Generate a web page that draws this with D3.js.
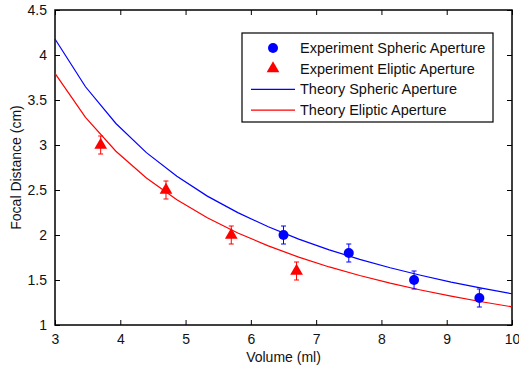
<!DOCTYPE html>
<html>
<head>
<meta charset="utf-8">
<script src="https://cdn.jsdelivr.net/npm/d3@7"></script>
<style>
  body { margin: 0; background: #fff; }
  svg text { font-family: "Liberation Sans", Arial, sans-serif; fill: #111; }
</style>
</head>
<body>
<div id="chart"></div>
<script>
// theory curves, sampled volumes (ml) and focal distances (cm)
const theoryVolume = [3, 3.467, 3.933, 4.4, 4.867, 5.333, 5.8, 6.267, 6.733, 7.2, 7.667, 8.133, 8.6, 9.067, 9.533, 10];
const theorySpheric = [4.178, 3.647, 3.239, 2.915, 2.652, 2.432, 2.249, 2.091, 1.954, 1.835, 1.730, 1.636, 1.553, 1.477, 1.409, 1.347];
const theoryEliptic = [3.796, 3.306, 2.931, 2.633, 2.392, 2.191, 2.023, 1.879, 1.754, 1.645, 1.550, 1.465, 1.389, 1.320, 1.258, 1.202];

// measurements
const sphericVolume = [6.5, 7.5, 8.5, 9.5];
const sphericFocal = [2.0, 1.8, 1.5, 1.3];
const elipticVolume = [3.7, 4.7, 5.7, 6.7];
const elipticFocal = [3.0, 2.5, 2.0, 1.6];
const errorHalf = 0.1;

const xTicks = [3, 4, 5, 6, 7, 8, 9, 10];
const yTicks = [1, 1.5, 2, 2.5, 3, 3.5, 4, 4.5];

const legendLabels = [
    "Experiment Spheric Aperture",
    "Experiment Eliptic Aperture",
    "Theory Spheric Aperture",
    "Theory Eliptic Aperture"
];

const width = 519, height = 371;
const margin = { top: 10, right: 7, bottom: 46, left: 55 };
const w = width - margin.left - margin.right;
const h = height - margin.top - margin.bottom;

const BLUE = "#0000ff", RED = "#ff0000";

const svg = d3.select("#chart").append("svg")
    .attr("width", width)
    .attr("height", height);

const g = svg.append("g")
    .attr("transform", `translate(${margin.left},${margin.top})`);

const x = d3.scaleLinear().domain([3, 10]).range([0, w]);
const y = d3.scaleLinear().domain([1, 4.5]).range([h, 0]);

// axes with inward ticks on all four sides
const fmt = d => d3.format("")(d);
g.append("g")
    .attr("transform", `translate(0,${h})`)
    .call(d3.axisBottom(x).tickValues(xTicks).tickSize(-5).tickPadding(9).tickFormat(fmt))
    .call(a => a.select(".domain").remove());
g.append("g")
    .call(d3.axisTop(x).tickValues(xTicks).tickSize(-5).tickFormat(""))
    .call(a => a.select(".domain").remove());
g.append("g")
    .call(d3.axisLeft(y).tickValues(yTicks).tickSize(-5).tickPadding(8).tickFormat(fmt))
    .call(a => a.select(".domain").remove());
g.append("g")
    .attr("transform", `translate(${w},0)`)
    .call(d3.axisRight(y).tickValues(yTicks).tickSize(-5).tickFormat(""))
    .call(a => a.select(".domain").remove());

g.selectAll(".tick line").attr("stroke", "#000").attr("stroke-width", 1);
g.selectAll(".tick text")
    .style("font-size", "14px")
    .attr("fill", "#111");

g.append("rect")
    .attr("width", w)
    .attr("height", h)
    .attr("fill", "none")
    .attr("stroke", "#000")
    .attr("stroke-width", 1.5);

// axis labels
g.append("text")
    .attr("x", w / 2)
    .attr("y", h + 37)
    .attr("text-anchor", "middle")
    .style("font-size", "14px")
    .text("Volume (ml)");

g.append("text")
    .attr("transform", "rotate(-90)")
    .attr("x", -h / 2)
    .attr("y", -34)
    .attr("text-anchor", "middle")
    .style("font-size", "14px")
    .text("Focal Distance (cm)");

// theory lines
const line = d3.line().x(d => x(d[0])).y(d => y(d[1]));
g.append("path")
    .datum(theoryVolume.map((v, i) => [v, theorySpheric[i]]))
    .attr("fill", "none")
    .attr("stroke", BLUE)
    .attr("stroke-width", 1.2)
    .attr("d", line);
g.append("path")
    .datum(theoryVolume.map((v, i) => [v, theoryEliptic[i]]))
    .attr("fill", "none")
    .attr("stroke", RED)
    .attr("stroke-width", 1.2)
    .attr("d", line);

// error bars
function errorBars(vols, vals, color) {
    const data = vols.map((v, i) => ({ v, f: vals[i] }));
    const eb = g.append("g").attr("stroke", color).attr("stroke-width", 1);
    eb.selectAll(".vbar").data(data).enter().append("line")
        .attr("x1", d => x(d.v)).attr("x2", d => x(d.v))
        .attr("y1", d => y(d.f - errorHalf)).attr("y2", d => y(d.f + errorHalf));
    eb.selectAll(".capTop").data(data).enter().append("line")
        .attr("x1", d => x(d.v) - 2.5).attr("x2", d => x(d.v) + 2.5)
        .attr("y1", d => y(d.f + errorHalf)).attr("y2", d => y(d.f + errorHalf));
    eb.selectAll(".capBot").data(data).enter().append("line")
        .attr("x1", d => x(d.v) - 2.5).attr("x2", d => x(d.v) + 2.5)
        .attr("y1", d => y(d.f - errorHalf)).attr("y2", d => y(d.f - errorHalf));
    return data;
}

const sph = errorBars(sphericVolume, sphericFocal, BLUE);
const eli = errorBars(elipticVolume, elipticFocal, RED);

g.selectAll(".dot").data(sph).enter().append("circle")
    .attr("cx", d => x(d.v))
    .attr("cy", d => y(d.f))
    .attr("r", 5)
    .attr("fill", BLUE);

const tri = d3.symbol().type(d3.symbolTriangle).size(70);
g.selectAll(".tri").data(eli).enter().append("path")
    .attr("transform", d => `translate(${x(d.v)},${y(d.f)})`)
    .attr("d", tri)
    .attr("fill", RED);

// legend
const legend = svg.append("g").attr("transform", "translate(242,33)");
legend.append("rect")
    .attr("width", 251)
    .attr("height", 89)
    .attr("fill", "#fff")
    .attr("stroke", "#000")
    .attr("stroke-width", 1.2);

legendLabels.forEach((label, i) => {
    const ly = 15 + i * 20.7;
    const row = legend.append("g").attr("transform", `translate(0,${ly})`);
    if (i === 0) {
        row.append("circle").attr("cx", 31).attr("cy", 0).attr("r", 5).attr("fill", BLUE);
    } else if (i === 1) {
        row.append("path").attr("transform", "translate(31,0)").attr("d", tri).attr("fill", RED);
    } else {
        row.append("line")
            .attr("x1", 9).attr("x2", 53)
            .attr("y1", 0).attr("y2", 0)
            .attr("stroke", i === 2 ? BLUE : RED)
            .attr("stroke-width", 1.2);
    }
    row.append("text")
        .attr("x", 58)
        .attr("y", 5)
        .style("font-size", "14.5px")
        .text(label);
});
</script>
</body>
</html>
